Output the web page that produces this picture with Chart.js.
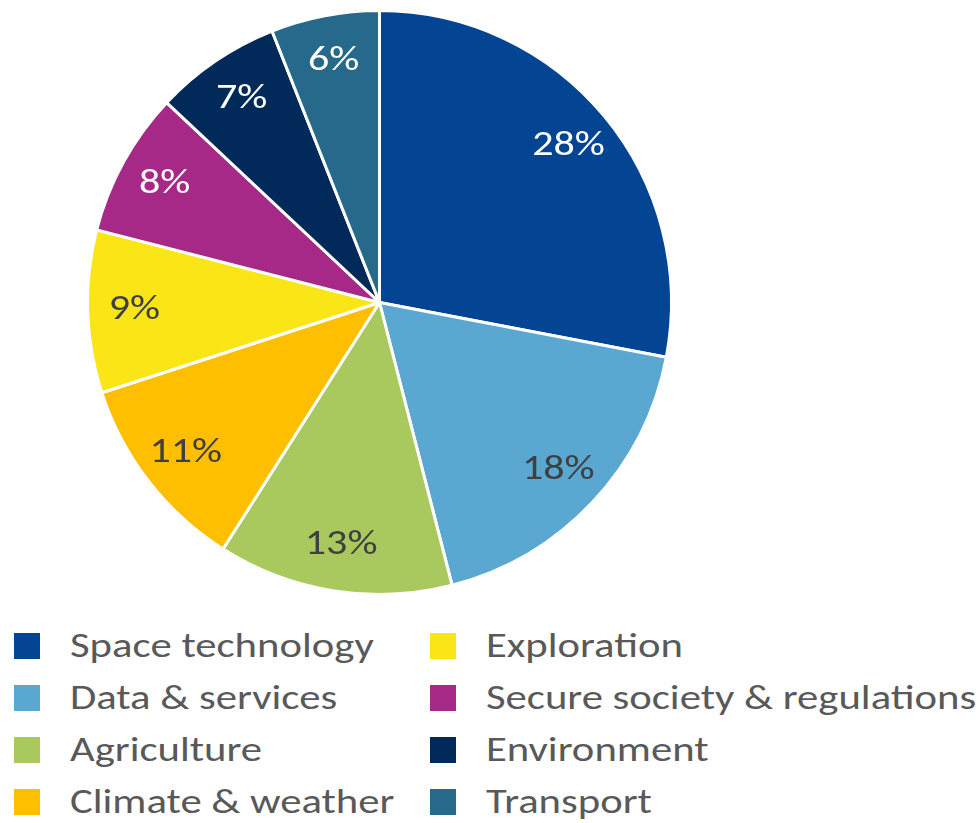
<!DOCTYPE html>
<html>
<head>
<meta charset="utf-8">
<script src="https://cdn.jsdelivr.net/npm/chart.js@4"></script>
<style>
    body { margin: 0; background: #fff; font-family: Carlito, Lato, "Open Sans", sans-serif; }
    #wrap { position: relative; width: 979px; height: 823px; overflow: hidden; }
    #chartBox { position: absolute; left: 0; top: 0; width: 979px; height: 612px; }
    .item { position: absolute; height: 26px; }
    .item .box { position: absolute; left: 0; top: 0; width: 26px; height: 26px; }
    .item .txt { position: absolute; left: 56px; top: -10px; font-size: 35px; line-height: 44px; color: #595959;
        white-space: nowrap; transform: scaleX(1.22); transform-origin: left center; }
</style>
</head>
<body>
<div id="wrap">
    <div id="chartBox"><canvas id="pieChart"></canvas></div>
    <div id="legend"></div>
</div>
<script>
const categories = [
    "Space technology",
    "Data & services",
    "Agriculture",
    "Climate & weather",
    "Exploration",
    "Secure society & regulations",
    "Environment",
    "Transport"
];
const shares = [28, 18, 13, 11, 9, 8, 7, 6];
const sliceColors = ["#034592", "#5AA8D1", "#A9C95F", "#FEBF00", "#FAE517", "#A62987", "#012A5B", "#27698B"];
const labelColors = ["#ffffff", "#404040", "#404040", "#404040", "#404040", "#ffffff", "#ffffff", "#ffffff"];

// percentage labels inside each slice (text widened to match the reference)
const sliceLabels = {
    id: "sliceLabels",
    afterDatasetsDraw(chart) {
        const ctx = chart.ctx;
        const meta = chart.getDatasetMeta(0);
        meta.data.forEach((arc, i) => {
            const p = arc.getProps(["x", "y", "startAngle", "endAngle", "outerRadius"], true);
            const mid = (p.startAngle + p.endAngle) / 2;
            const r = p.outerRadius * 0.84;
            ctx.save();
            ctx.translate(p.x + Math.cos(mid) * r, p.y + Math.sin(mid) * r);
            ctx.scale(1.2, 1);
            ctx.font = "35px Carlito, Lato, sans-serif";
            ctx.textAlign = "center";
            ctx.textBaseline = "middle";
            ctx.fillStyle = labelColors[i];
            ctx.fillText(shares[i] + "%", 0, 0);
            ctx.restore();
        });
    }
};

const ctx = document.getElementById("pieChart").getContext("2d");
new Chart(ctx, {
    type: "pie",
    data: {
        labels: categories,
        datasets: [{
            data: shares,
            backgroundColor: sliceColors,
            borderColor: "#ffffff",
            borderWidth: 3
        }]
    },
    options: {
        responsive: true,
        maintainAspectRatio: false,
        animation: false,
        layout: { padding: { left: 86, right: 306, top: 8, bottom: 15 } },
        plugins: {
            legend: { display: false },
            tooltip: { enabled: false }
        }
    },
    plugins: [sliceLabels]
});

// two-column legend below the pie
const legend = document.getElementById("legend");
categories.forEach((name, i) => {
    const col = Math.floor(i / 4);
    const row = i % 4;
    const item = document.createElement("div");
    item.className = "item";
    item.style.left = (14 + col * 416) + "px";
    item.style.top = (633 + row * 52) + "px";
    item.innerHTML = `<div class="box" style="background:${sliceColors[i]}"></div><div class="txt"></div>`;
    item.querySelector(".txt").textContent = name;
    legend.appendChild(item);
});
</script>
</body>
</html>
